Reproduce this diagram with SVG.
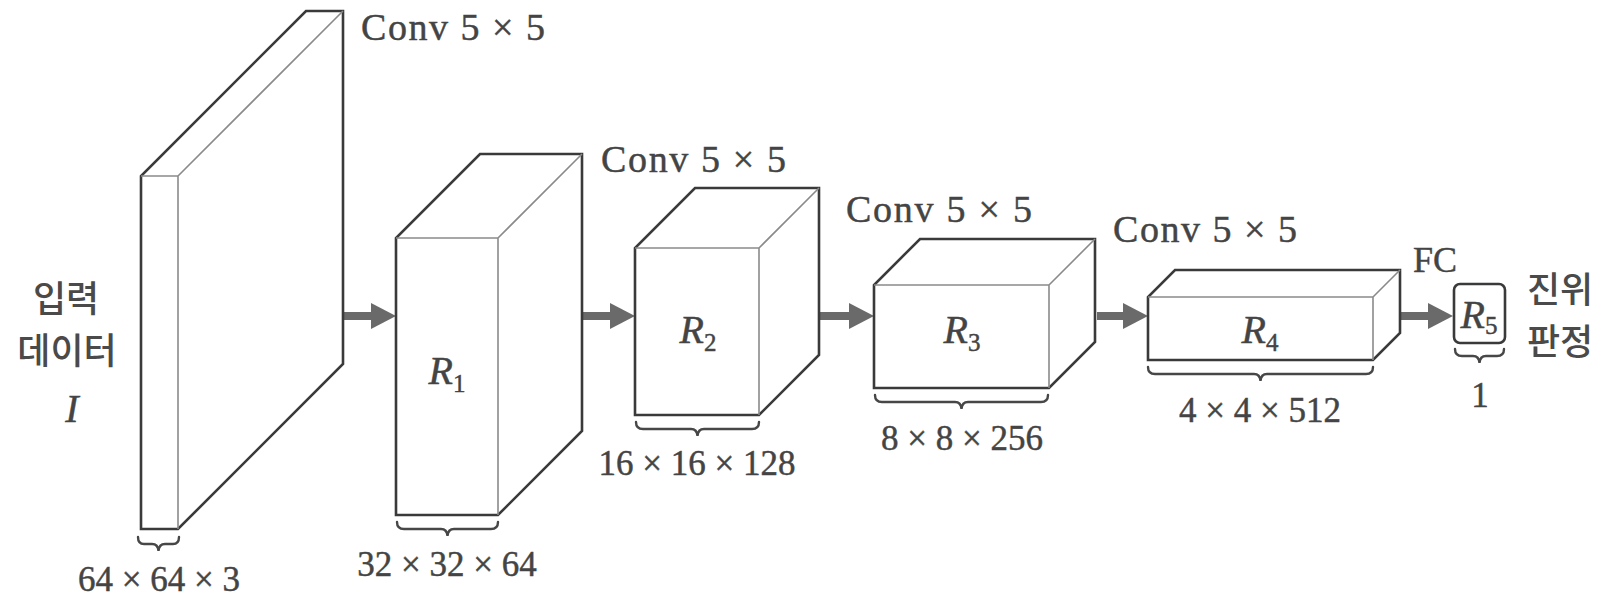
<svg xmlns="http://www.w3.org/2000/svg" width="1612" height="597" viewBox="0 0 1612 597">
  <defs>
    <style>
      .edge { fill: #ffffff; stroke: #3a3a3a; stroke-width: 2.6; stroke-linejoin: miter; }
      .inner { fill: none; stroke: #8a8a8a; stroke-width: 1.6; }
      .brace { fill: none; stroke: #474747; stroke-width: 2.4; stroke-linecap: round; }
      .flow { stroke: #6a6a6a; stroke-width: 8; marker-end: url(#head); }
      .lbl { font-family: "Liberation Serif", "Times New Roman", serif; fill: #444444; stroke: #444444; stroke-width: 0.45; }
      .conv { font-size: 38px; }
      .dim { font-size: 35px; text-anchor: middle; }
      .var { font-size: 40px; font-style: italic; text-anchor: middle; }
      .sub { font-size: 25px; font-style: normal; }
      .ko { font-family: "Noto Sans CJK KR", "Noto Sans", sans-serif; font-size: 36px; font-weight: 500; fill: #4a4a4a; text-anchor: middle; }
    </style>
    <marker id="head" markerUnits="userSpaceOnUse" markerWidth="25" markerHeight="26" refX="0" refY="13" orient="auto">
      <path d="M0,0 L25,13 L0,26 Z" fill="#6a6a6a"/>
    </marker>
  </defs>

  <rect width="1612" height="597" fill="#ffffff"/>

  <!-- connectors between layers -->
  <g id="connectors">
    <line class="flow" x1="343" y1="316" x2="371" y2="316"/>
    <line class="flow" x1="583" y1="316" x2="610" y2="316"/>
    <line class="flow" x1="820" y1="316" x2="849" y2="316"/>
    <line class="flow" x1="1097" y1="316" x2="1123" y2="316"/>
    <line class="flow" x1="1401" y1="316" x2="1428" y2="316"/>
  </g>

  <!-- input tensor I -->
  <g id="node-input">
    <path class="edge" d="M141,529 L141,176 L306,11 L343,11 L343,364 L178,529 Z"/>
    <path class="inner" d="M141,176 L178,176 L178,529 M178,176 L343,11"/>
    <path class="brace" d="M138,537 Q138,544 144,544 L152,544 Q158,544 158.5,551 Q159,544 165,544 L173,544 Q179,544 179,537"/>
    <text class="lbl dim" x="159" y="591">64 × 64 × 3</text>
    <text class="ko" x="66" y="312">입력</text>
    <text class="ko" x="67" y="364">데이터</text>
    <text class="lbl var" x="72" y="422" font-size="42">I</text>
  </g>

  <!-- feature map R1 -->
  <g id="node-r1">
    <text class="lbl conv" x="361" y="40" textLength="184" lengthAdjust="spacing">Conv 5 × 5</text>
    <path class="edge" d="M396,515 L396,238 L480,154 L582,154 L582,431 L498,515 Z"/>
    <path class="inner" d="M396,238 L498,238 L498,515 M498,238 L582,154"/>
    <text class="lbl var" x="447" y="384">R<tspan class="sub" dy="8">1</tspan></text>
    <path class="brace" d="M397,522 Q397,529 404,529 L441,529 Q447,529 447.5,536 Q448,529 454,529 L491,529 Q498,529 498,522"/>
    <text class="lbl dim" x="447" y="576">32 × 32 × 64</text>
  </g>

  <!-- feature map R2 -->
  <g id="node-r2">
    <text class="lbl conv" x="601" y="172" textLength="185" lengthAdjust="spacing">Conv 5 × 5</text>
    <path class="edge" d="M635,415 L635,248 L695,188 L819,188 L819,355 L759,415 Z"/>
    <path class="inner" d="M635,248 L759,248 L759,415 M759,248 L819,188"/>
    <text class="lbl var" x="698" y="343">R<tspan class="sub" dy="8">2</tspan></text>
    <path class="brace" d="M636,422 Q636,429 643,429 L691,429 Q697,429 697.5,436 Q698,429 704,429 L752,429 Q759,429 759,422"/>
    <text class="lbl dim" x="697" y="475">16 × 16 × 128</text>
  </g>

  <!-- feature map R3 -->
  <g id="node-r3">
    <text class="lbl conv" x="846" y="222" textLength="186" lengthAdjust="spacing">Conv 5 × 5</text>
    <path class="edge" d="M874,388 L874,285 L920,239 L1095,239 L1095,342 L1049,388 Z"/>
    <path class="inner" d="M874,285 L1049,285 L1049,388 M1049,285 L1095,239"/>
    <text class="lbl var" x="962" y="343">R<tspan class="sub" dy="8">3</tspan></text>
    <path class="brace" d="M875,395 Q875,402 882,402 L955,402 Q961,402 961.5,409 Q962,402 968,402 L1041,402 Q1048,402 1048,395"/>
    <text class="lbl dim" x="962" y="450">8 × 8 × 256</text>
  </g>

  <!-- feature map R4 -->
  <g id="node-r4">
    <text class="lbl conv" x="1113" y="242" textLength="184" lengthAdjust="spacing">Conv 5 × 5</text>
    <path class="edge" d="M1148,360 L1148,297 L1175,270 L1400,270 L1400,333 L1373,360 Z"/>
    <path class="inner" d="M1148,297 L1373,297 L1373,360 M1373,297 L1400,270"/>
    <text class="lbl var" x="1260" y="343">R<tspan class="sub" dy="8">4</tspan></text>
    <path class="brace" d="M1148,367 Q1148,374 1155,374 L1254,374 Q1260,374 1260.5,381 Q1261,374 1267,374 L1366,374 Q1373,374 1373,367"/>
    <text class="lbl dim" x="1260" y="422">4 × 4 × 512</text>
  </g>

  <!-- output R5 -->
  <g id="node-r5">
    <text class="lbl" x="1413" y="272" font-size="36">FC</text>
    <rect x="1454" y="284" width="51" height="59" rx="6" ry="6" fill="#ffffff" stroke="#3a3a3a" stroke-width="2.6"/>
    <text class="lbl var" x="1479" y="328" font-size="36">R<tspan class="sub" font-size="22" dy="6">5</tspan></text>
    <path class="brace" d="M1455,349 Q1455,356 1462,356 L1473,356 Q1479,356 1479.5,363 Q1480,356 1486,356 L1497,356 Q1504,356 1504,349"/>
    <text class="lbl dim" x="1480" y="407">1</text>
    <text class="ko" x="1560" y="303">진위</text>
    <text class="ko" x="1560" y="355">판정</text>
  </g>
</svg>
